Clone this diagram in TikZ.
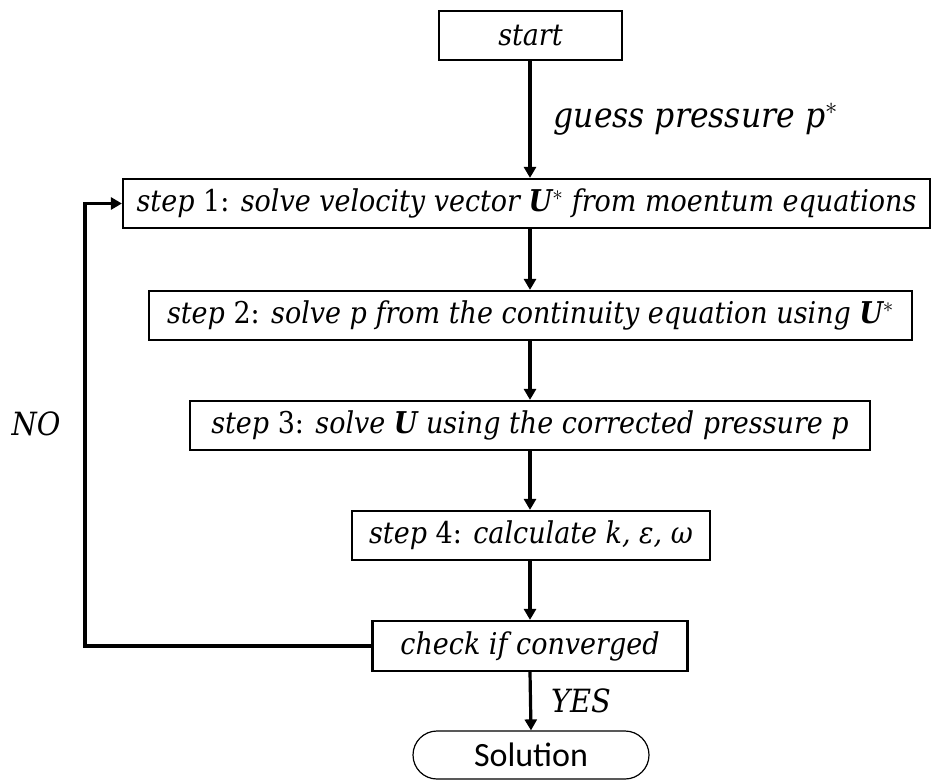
\documentclass[tikz,border=0pt]{standalone}
\usepackage{fix-cm}
\usepackage{fontspec}
\setmainfont{DejaVu Serif Condensed}
\newfontfamily\solfont{Carlito}
\usetikzlibrary{arrows.meta}

\begin{document}
\begin{tikzpicture} [x=1pt, y=-1pt, align=center,
  box/.style={rectangle, draw, line width=2.2pt, minimum height=49pt, inner sep=0pt,
    font=\fontsize{30}{36}\selectfont\itshape},
  flow/.style={line width=3.2pt, -{Triangle[length=11pt, width=12pt]}},
  lbl/.style={inner sep=0pt, font=\fontsize{32}{38}\selectfont\itshape}]
\useasboundingbox (0,0) rectangle (931,780);

\path (530.5,35.5) node[box, minimum width=183pt] (start) {start}
      (526.5,203.5) node[box, minimum width=807pt] (step1)
        {step {\upshape 1:} solve velocity vector {\bfseries U}$^*$ from moentum equations}
      (530.5,315.5) node[box, minimum width=763pt] (step2)
        {step {\upshape 2:} solve p from the continuity equation using {\bfseries U}$^*$}
      (530,425.5) node[box, minimum width=680pt] (step3)
        {step {\upshape 3:} solve {\bfseries U} using the corrected pressure p}
      (531,535.5) node[box, minimum width=358pt] (step4)
        {step {\upshape 4:} calculate k, ε, ω}
      (530,646) node[box, minimum width=315pt, minimum height=50pt] (check) {check if converged}
      (531,755) node[draw, line width=1.2pt, rounded corners=24pt, minimum width=236pt,
        minimum height=48pt, font=\fontsize{34}{40}\selectfont\solfont] (sol) {Solution}
      (36,424) node[lbl] (no) {NO};
\coordinate (turn) at (85,424);

\draw[flow] (start.south -| check) to node[lbl, right, xshift=22pt, font=\fontsize{35}{40}\selectfont\itshape]
  {guess pressure p$^*$} (step1.north -| check);
\draw[flow] (step1.south -| check) to (step2.north -| check);
\draw[flow] (step2.south -| check) to (step3.north -| check);
\draw[flow] (step3.south -| check) to (step4.north -| check);
\draw[flow] (step4.south -| check) to (check.north);
\draw[flow] (check.south) to node[lbl, right, xshift=19pt] {YES} (sol.north);
\draw[flow] (check.west) -| (turn) |- (step1.west);

\end{tikzpicture}
\end{document}
